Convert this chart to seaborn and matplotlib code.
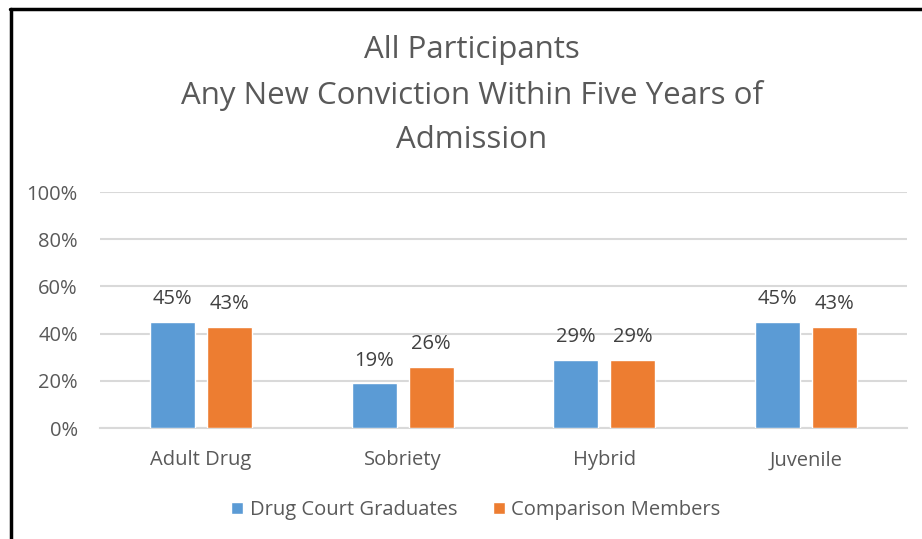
import matplotlib
matplotlib.use("Agg")
import matplotlib.pyplot as plt
from matplotlib.lines import Line2D
from matplotlib.patches import Rectangle
import seaborn as sns
import pandas as pd

categories = ["Adult Drug", "Sobriety", "Hybrid", "Juvenile"]
series_names = ["Drug Court Graduates", "Comparison Members"]
graduates = [45, 19, 29, 45]
comparison = [43, 26, 29, 43]
y_ticks = [0, 20, 40, 60, 80, 100]
title_lines = ["All Participants", "Any New Conviction Within Five Years of", "Admission"]

colors = ["#5b9bd5", "#ed7d31"]
text_gray = "#595959"

df = pd.DataFrame({
    "Program": categories * 2,
    "Group": [series_names[0]] * len(categories) + [series_names[1]] * len(categories),
    "Rate": graduates + comparison,
})

sns.set_style("white")
plt.rcParams["font.family"] = ["Open Sans", "DejaVu Sans"]

W, H = 922, 539
fig = plt.figure(figsize=(W / 100, H / 100), dpi=100)
ax = fig.add_axes([100 / W, 1 - 428 / H, 807 / W, 236 / H])

sns.barplot(data=df, x="Program", y="Rate", hue="Group", order=categories,
            hue_order=series_names, palette=colors, width=0.564, gap=0.21,
            saturation=1, ax=ax, legend=False, zorder=3)

ax.set_ylim(0, 100)
ax.set_xlim(-0.5, len(categories) - 0.5)
ax.set_yticks(y_ticks)
ax.set_yticklabels([f"{v}%" for v in y_ticks], color=text_gray, fontsize=14.5)
ax.set_xticks(range(len(categories)))
ax.set_xticklabels(categories, color=text_gray, fontsize=14.5)
ax.tick_params(axis="y", length=0, pad=16)
ax.tick_params(axis="x", length=0, pad=16)
ax.set_xlabel("")
ax.set_ylabel("")
ax.grid(axis="y", color="#d9d9d9", linewidth=1.5, zorder=0)
ax.set_axisbelow(True)
for s in ["top", "right", "left"]:
    ax.spines[s].set_visible(False)
ax.spines["bottom"].set_color("#d9d9d9")
ax.spines["bottom"].set_linewidth(1.5)

for container in ax.containers:
    ax.bar_label(container, labels=[f"{v:.0f}%" for v in container.datavalues],
                 padding=9, color="#404040", fontsize=14.5)

fig.text(472 / W, 1 - 95 / H, "\n".join(title_lines), ha="center", va="center",
         fontsize=22.5, color=text_gray, linespacing=1.62)

handles = [Rectangle((0, 0), 1, 1, facecolor=c) for c in colors]
fig.legend(handles, series_names, loc="center", bbox_to_anchor=(476 / W, 1 - 510 / H),
           ncol=2, frameon=False, fontsize=14.5, handlelength=0.6, handleheight=0.6,
           handletextpad=0.3, columnspacing=1.8, labelcolor=text_gray)

# frame lines along the left and top edges
fig.add_artist(Line2D([10.5 / W, 10.5 / W], [0, 1 - 9 / H], color="black", linewidth=2.5,
                      transform=fig.transFigure))
fig.add_artist(Line2D([9.5 / W, 1], [1 - 9 / H, 1 - 9 / H], color="black", linewidth=2.5,
                      transform=fig.transFigure))

fig.savefig("out.png", dpi=100, facecolor="white")
